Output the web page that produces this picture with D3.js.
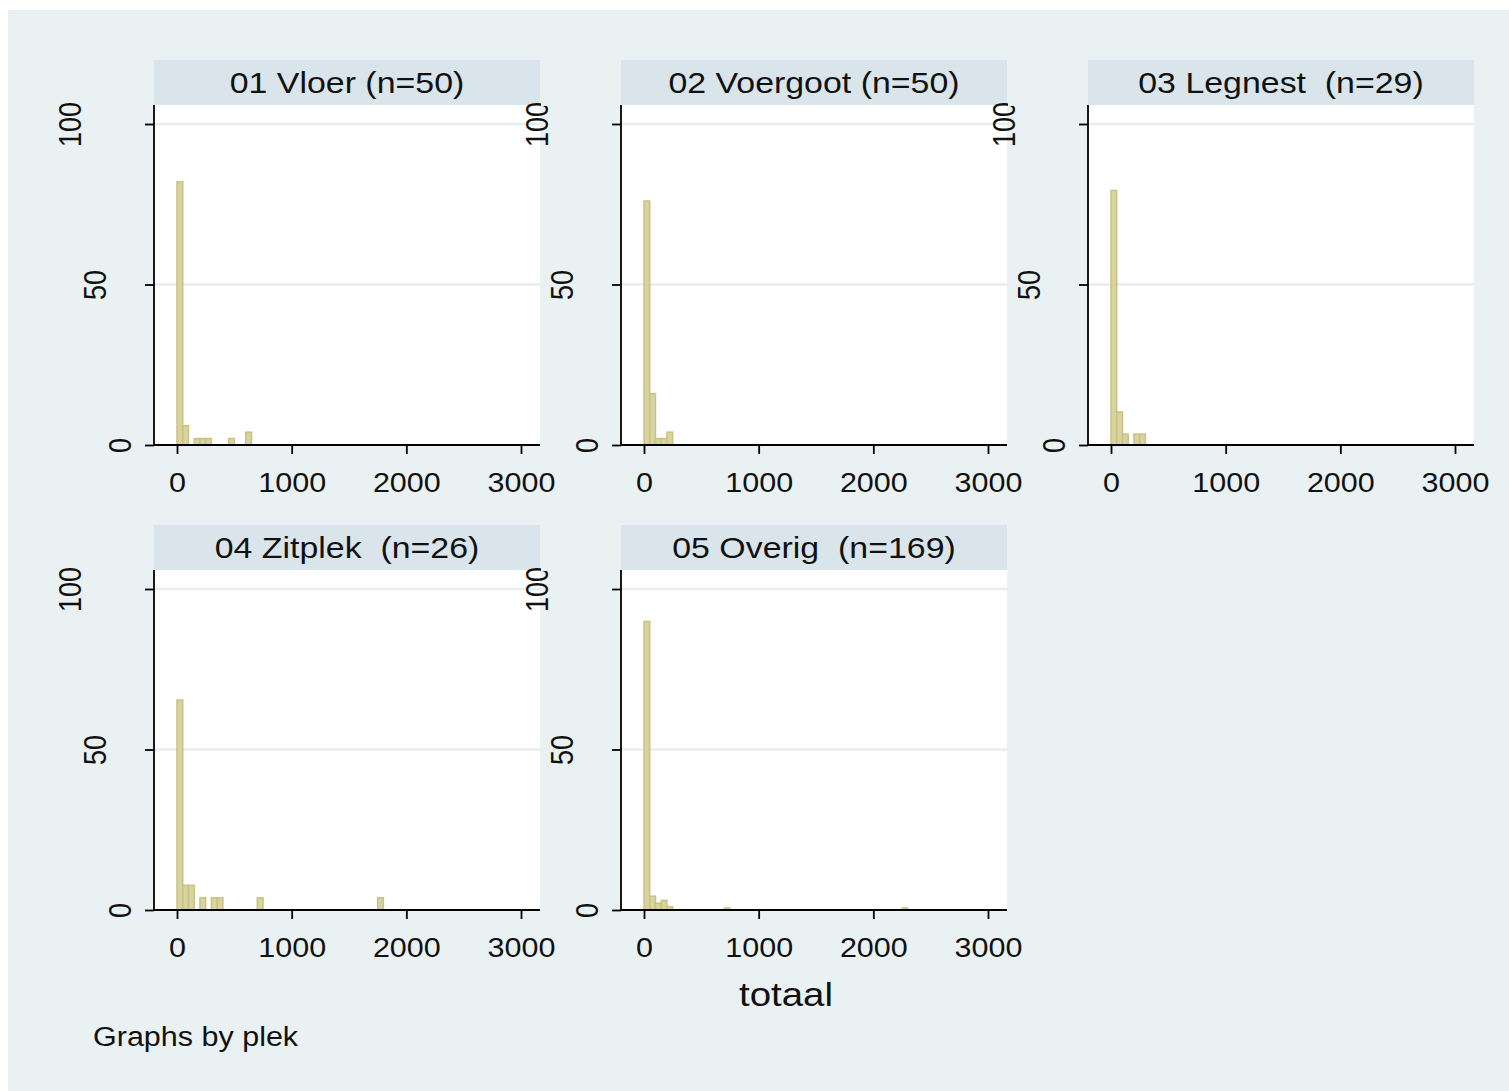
<!DOCTYPE html>
<html>
<head>
<meta charset="utf-8">
<script src="https://cdn.jsdelivr.net/npm/d3@7"></script>
<style>
  html, body { margin: 0; padding: 0; background: #ffffff; }
  svg { display: block; }
  text { font-family: "Liberation Sans", Arial, sans-serif; fill: #111; }
</style>
</head>
<body>
<svg id="chart" width="1509" height="1091"></svg>
<script>
// ---------------- data ----------------
const panelTitles = ["01 Vloer (n=50)", "02 Voergoot (n=50)", "03 Legnest  (n=29)", "04 Zitplek  (n=26)", "05 Overig  (n=169)"];
const binWidth = 50;
// bin starts (totaal) and percent heights per panel
const vloerBins     = [0, 50, 150, 200, 250, 450, 600];
const vloerPct      = [82, 6, 2, 2, 2, 2, 4];
const voergootBins  = [0, 50, 100, 150, 200];
const voergootPct   = [76, 16, 2, 2, 4];
const legnestBins   = [0, 50, 100, 200, 250];
const legnestPct    = [79.3, 10.3, 3.4, 3.4, 3.4];
const zitplekBins   = [0, 50, 100, 200, 300, 350, 700, 1750];
const zitplekPct    = [65.4, 7.7, 7.7, 3.8, 3.8, 3.8, 3.8, 3.8];
const overigBins    = [0, 50, 100, 150, 200, 700, 2250];
const overigPct     = [89.9, 4.3, 2.1, 3.0, 1.0, 0.6, 0.6];
const xTicks = [0, 1000, 2000, 3000];
const yTicks = [0, 50, 100];
const xTitle = "totaal";
const note = "Graphs by plek";

const panelBins = [vloerBins, voergootBins, legnestBins, zitplekBins, overigBins];
const panelPct  = [vloerPct, voergootPct, legnestPct, zitplekPct, overigPct];

// ---------------- layout ----------------
const BG = "#EAF1F3", HEADER = "#D9E5EB", GRID = "#E6EEF0";
const BAR_FILL = "#D9D3A0", BAR_STROKE = "#C9C284";
const SX = 1.13; // horizontal text stretch
const colLeft = [154, 621, 1088];
const rowTop = [105, 570];
const plotW = 386, plotH = 340, headH = 45;

const svg = d3.select("#chart");
svg.append("rect").attr("x", 8).attr("y", 10).attr("width", 1501).attr("height", 1081).attr("fill", BG);

panelTitles.forEach((title, i) => {
  const col = i % 3, row = Math.floor(i / 3);
  const left = colLeft[col], top = rowTop[row], bottom = top + plotH, right = left + plotW;
  const g = svg.append("g");

  const x = d3.scaleLinear().domain([0, 3000]).range([left + 23, left + 367]);
  const y = d3.scaleLinear().domain([0, 100]).range([bottom, bottom - 321]);

  // header strip
  g.append("rect").attr("x", left).attr("y", top - headH).attr("width", plotW).attr("height", headH).attr("fill", HEADER);
  g.append("text")
    .attr("transform", `translate(${(left + right) / 2},${top - 12}) scale(${SX},1)`)
    .attr("text-anchor", "middle").style("white-space", "pre")
    .attr("font-size", 30).text(title);

  // plot region
  g.append("rect").attr("x", left).attr("y", top).attr("width", plotW).attr("height", plotH).attr("fill", "#ffffff");

  // gridlines
  g.selectAll(".grid").data(yTicks.filter(v => v > 0)).join("line")
    .attr("x1", left).attr("x2", right)
    .attr("y1", d => y(d)).attr("y2", d => y(d))
    .attr("stroke", GRID).attr("stroke-width", 2.5);

  // bars
  const data = panelBins[i].map((b, k) => ({ b, p: panelPct[i][k] }));
  g.selectAll(".bar").data(data).join("rect")
    .attr("x", d => x(d.b))
    .attr("y", d => y(d.p))
    .attr("width", d => x(d.b + binWidth) - x(d.b))
    .attr("height", d => y(0) - y(d.p))
    .attr("fill", BAR_FILL).attr("stroke", BAR_STROKE).attr("stroke-width", 1.5);

  // x axis
  const xa = g.append("g").attr("transform", `translate(0,${bottom})`)
    .call(d3.axisBottom(x).tickValues(xTicks).tickSize(9).tickSizeOuter(0).tickFormat(d3.format("d")));
  xa.select(".domain").remove();
  xa.selectAll(".tick line").attr("stroke", "#000").attr("stroke-width", 1.8);
  xa.selectAll(".tick text").remove();
  xa.selectAll(".tick").append("text")
    .attr("transform", `translate(0,47) scale(${SX},1)`)
    .attr("text-anchor", "middle").attr("font-size", 27).attr("fill", "#111")
    .text(d => d3.format("d")(d));
  g.append("line").attr("x1", left).attr("x2", right).attr("y1", bottom).attr("y2", bottom)
    .attr("stroke", "#000").attr("stroke-width", 1.8);

  // y axis
  const ya = g.append("g").attr("transform", `translate(${left},0)`)
    .call(d3.axisLeft(y).tickValues(yTicks).tickSize(9).tickSizeOuter(0));
  ya.select(".domain").remove();
  ya.selectAll(".tick line").attr("stroke", "#000").attr("stroke-width", 1.8);
  ya.selectAll(".tick text").remove();
  ya.selectAll(".tick").append("text")
    .attr("transform", d => {
      const len = String(d).length;
      const dx = -(9 + 25 * len); // staggered like the reference
      return `translate(${dx},0) scale(${SX},1) rotate(-90)`;
    })
    .attr("text-anchor", "middle").attr("dy", "0.36em").attr("font-size", 27).attr("fill", "#111")
    .text(d => d);
  g.append("line").attr("x1", left).attr("x2", left).attr("y1", top).attr("y2", bottom)
    .attr("stroke", "#000").attr("stroke-width", 1.8);

  // mimic the clipped label top in columns 2 and 3
  if (col > 0) {
    const cx = colLeft[col - 1] + plotW + 1;
    g.append("rect").attr("x", cx).attr("y", top - headH)
      .attr("width", left - 20 - cx).attr("height", headH + 1).attr("fill", BG);
  }
});

// axis title and note
svg.append("text").attr("transform", `translate(786,1006) scale(${SX},1)`)
  .attr("text-anchor", "middle").attr("font-size", 34).text(xTitle);
svg.append("text").attr("transform", `translate(93,1046) scale(${SX},1)`)
  .attr("font-size", 27).text(note);
</script>
</body>
</html>
